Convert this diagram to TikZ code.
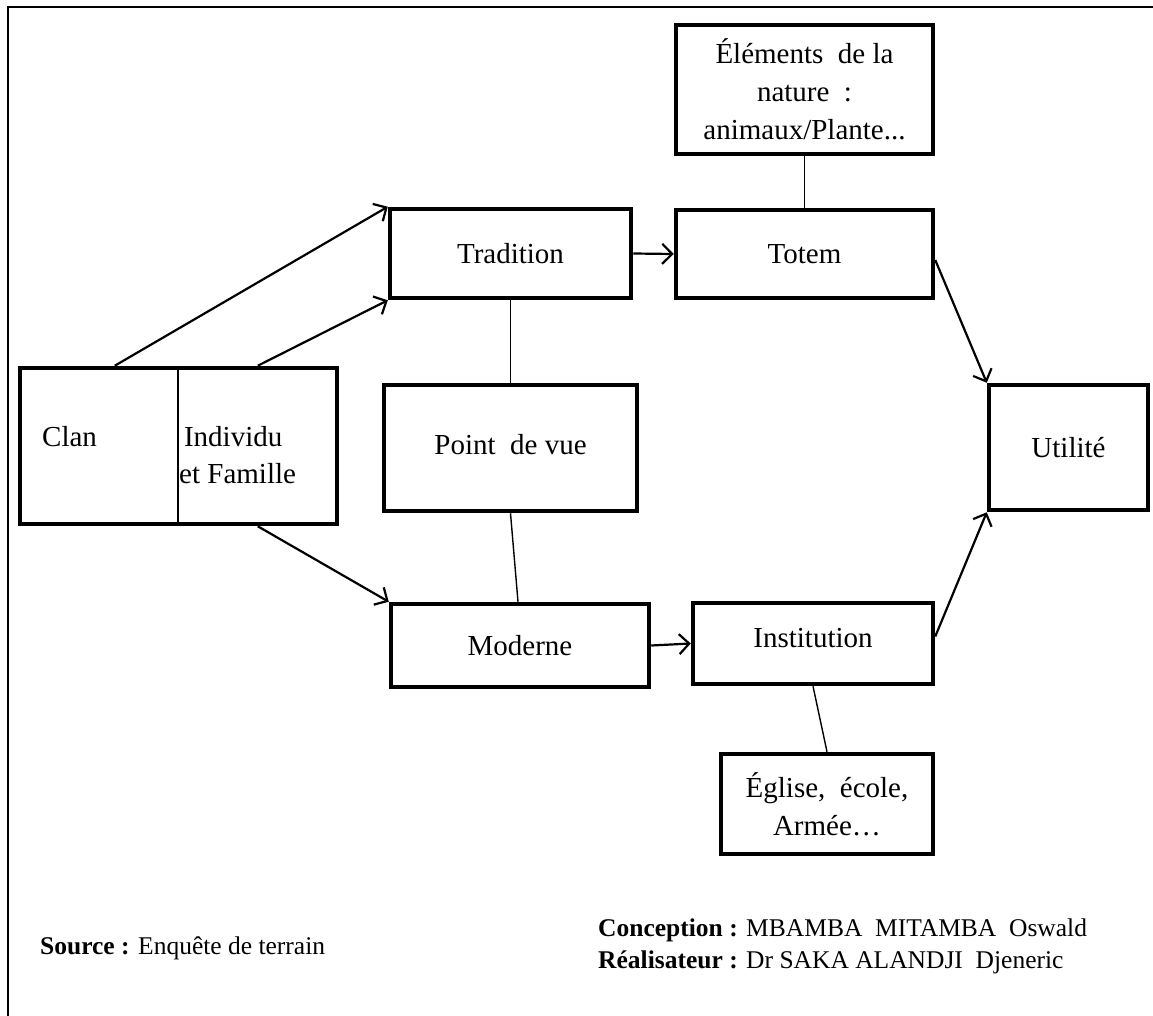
\documentclass[tikz,border=0pt]{standalone}
\usepackage{fontspec}
\setmainfont{Liberation Serif}
\usetikzlibrary{arrows.meta,calc}
\begin{document}
\begin{tikzpicture}[x=1pt,y=-1pt,
  box/.style={draw,line width=4.5pt,rectangle,inner sep=0pt,align=center,
    font=\fontsize{29}{38}\selectfont},
  arr/.style={line width=2.2pt,-{Straight Barb[length=10pt,width=20pt,line width=2.2pt]}},
  link/.style={line width=1.4pt},
  txt/.style={inner sep=0pt,align=left,font=\fontsize{29}{37}\selectfont},
  foot/.style={inner sep=0pt,anchor=west,font=\fontsize{25.5}{32}\selectfont}]
\useasboundingbox (0,0) rectangle (1153,1016);
\draw[line width=2.2pt] (8,1016) -- (8,7) -- (1153,7);
% boxes
\node[box,minimum width=317pt,minimum height=156pt] (clan) at (178.5,446) {};
\node[box,minimum width=241pt,minimum height=89pt] (trad) at (510.5,253.5) {Tradition};
\node[box,minimum width=253pt,minimum height=126pt] (pdv) at (510.5,448) {\raisebox{8pt}{Point\ \ de vue}};
\node[box,minimum width=258pt,minimum height=83pt] (mod) at (520,645.5) {Moderne};
\node[box,minimum width=257pt,minimum height=88pt] (totem) at (804.5,254) {\raisebox{-5pt}{Totem}};
\node[box,minimum width=257pt,minimum height=129pt] (elem) at (804.5,89.5) {Éléments\ \ de la\\nature\ \ :\\animaux/Plante...};
\node[box,minimum width=159pt,minimum height=125pt] (util) at (1068.5,447.5) {\raisebox{-5pt}{Utilité}};
\node[box,minimum width=240pt,minimum height=81pt] (inst) at (813,643.5) {\raisebox{11pt}{Institution}};
\node[box,minimum width=212pt,minimum height=100pt] (egl) at (827,804) {Église,\ \ école,\\Armée…};
% clan box interior
\coordinate (divtop) at (178,368);
\coordinate (divbot) at (178,524);
\draw[link] (divtop) -- (divbot);
\node[txt,anchor=west] (clantxt) at (42,437) {Clan};
\node[txt,anchor=west] (indtxt) at (179,455) {\,Individu\\et Famille};
% arrows
\draw[arr] ([xshift=97pt]clan.north west) -- (trad.north west);
\draw[arr] ([xshift=240pt]clan.north west) -- (trad.south west);
\draw[arr] ([xshift=240pt]clan.south west) -- (mod.north west);
\draw[arr] (trad.east) -- (totem.west);
\draw[arr] (mod.east) -- (inst.west);
\draw[arr] ([yshift=-6pt]totem.east) -- (util.north west);
\draw[arr] ([yshift=7pt]inst.east) -- (util.south west);
% thin links
\draw[link] (elem.south) -- (totem.north);
\draw[link] (trad.south) -- (pdv.north);
\draw[link] (pdv.south) -- ([xshift=-2pt]mod.north);
\draw[link] (inst.south) -- (egl.north);
% footer
\node[foot] (source) at (40,948) {\textbf{Source :} Enquête de terrain};
\node[foot] (credits) at (598,946) {\begin{tabular}{@{}l@{\ }l@{}}
\textbf{Conception} & \textbf{:} MBAMBA\ \ MITAMBA\ \ Oswald\\
\textbf{Réalisateur} & \textbf{:} Dr SAKA ALANDJI\ \ Djeneric
\end{tabular}};
\end{tikzpicture}
\end{document}
